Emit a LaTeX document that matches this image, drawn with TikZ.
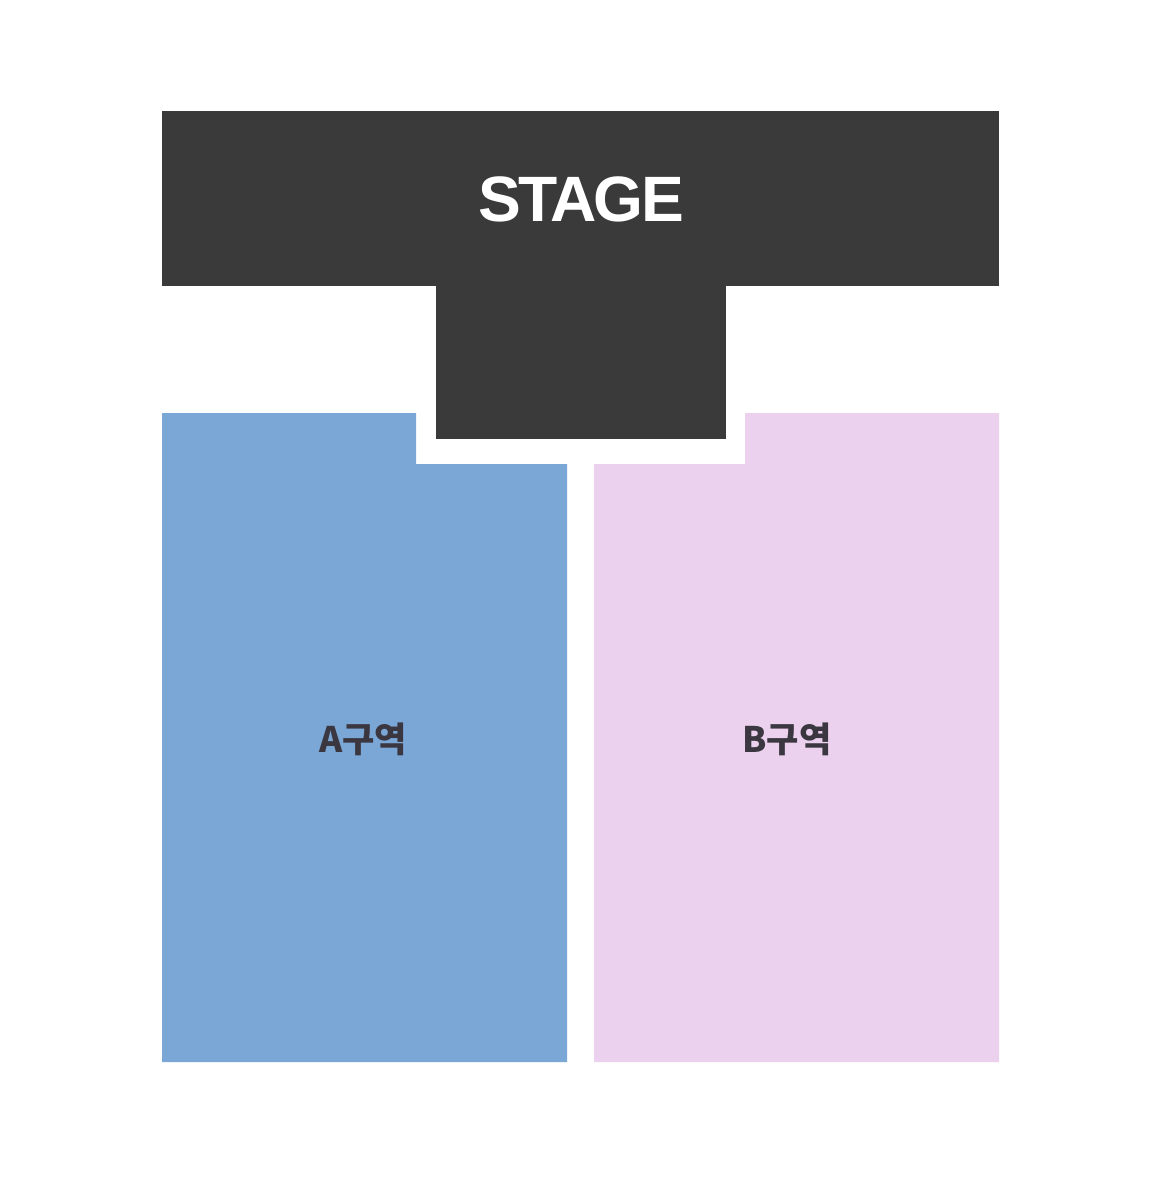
\documentclass[tikz,border=0pt]{standalone}
\usepackage{fontspec}
\setmainfont{Noto Sans CJK KR}
\newfontfamily\stagefont[LetterSpace=-4]{Liberation Sans}
\usepackage{xcolor}
\definecolor{stagegray}{HTML}{3A3A3A}
\definecolor{zoneblue}{HTML}{7BA7D7}
\definecolor{zonepink}{HTML}{EBD1EE}
\definecolor{labelgray}{HTML}{3B3740}
\usetikzlibrary{positioning,calc}

\begin{document}
\begin{tikzpicture}[x=0.02cm,y=-0.02cm,
	zonelabel/.style={text=labelgray,font=\fontsize{20}{24}\selectfont\bfseries,inner sep=0pt}]
		\useasboundingbox (0,0) rectangle (1156,1200);
		% stage (T shape)
		\fill[stagegray] (162,111) rectangle (999,286);
		\fill[stagegray] (436,285) rectangle (726,439);
		\node[text=white,font=\stagefont\fontsize{36.5}{40}\selectfont\bfseries,inner sep=0pt] (stage) at (581,199) {STAGE};
		
		% zones
		\fill[zoneblue] (162,413) -- (416,413) -- (416,464) -- (567,464) -- (567,1062) -- (162,1062) -- cycle;
		\fill[zonepink] (594,464) -- (745,464) -- (745,413) -- (999,413) -- (999,1062) -- (594,1062) -- cycle;
		\node[zonelabel] (za) at (363,739) {A구역};
		\node[zonelabel] (zb) at (787,739) {B구역};
	\end{tikzpicture}
\end{document}
